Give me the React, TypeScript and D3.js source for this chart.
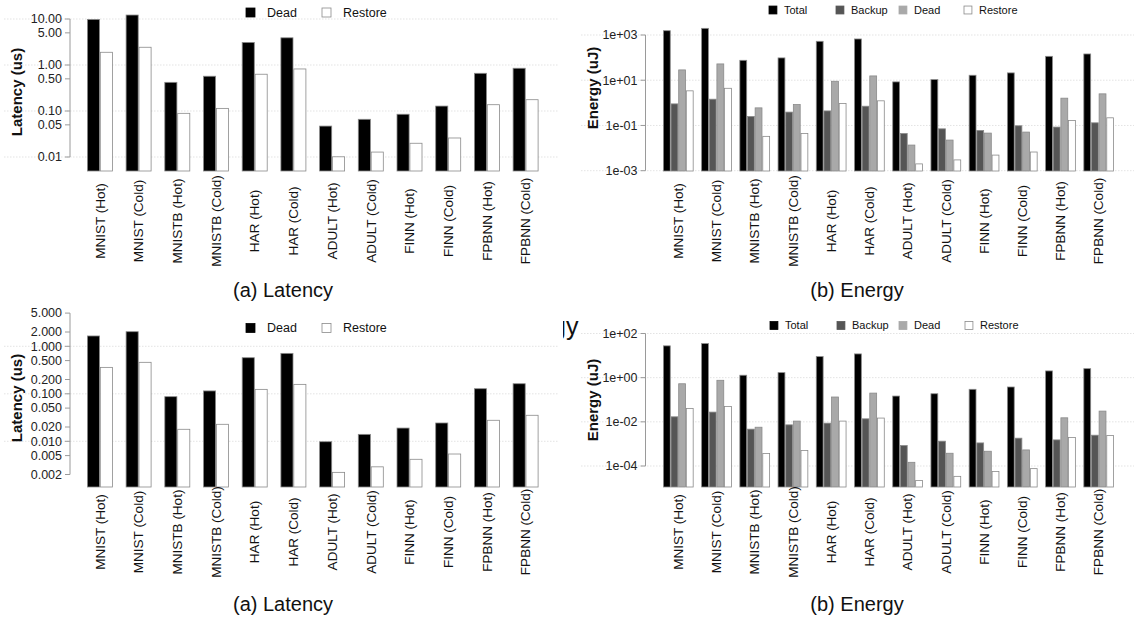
import * as d3 from 'd3'

// Docu: four log-scale grouped bar panels (latency + energy, two rows), drawn as JSX with d3 scales
const FONT = '"Liberation Sans", Arial, Helvetica, sans-serif'

const categories = [
  'MNIST (Hot)', 'MNIST (Cold)', 'MNISTB (Hot)', 'MNISTB (Cold)', 'HAR (Hot)', 'HAR (Cold)',
  'ADULT (Hot)', 'ADULT (Cold)', 'FINN (Hot)', 'FINN (Cold)', 'FPBNN (Hot)', 'FPBNN (Cold)',
]
const latSeries = ['Dead', 'Restore']
const energySeries = ['Total', 'Backup', 'Dead', 'Restore']

// top row
const latTopDead = [9.8, 12.2, 0.42, 0.57, 3.1, 3.9, 0.047, 0.066, 0.085, 0.128, 0.66, 0.85]
const latTopRestore = [1.89, 2.43, 0.089, 0.114, 0.63, 0.82, 0.0101, 0.0128, 0.0199, 0.0259, 0.137, 0.176]
const enTopTotal = [1550, 1970, 76, 97, 526, 667, 8.45, 10.7, 16.6, 21.1, 114, 145]
const enTopBackup = [0.9, 1.45, 0.25, 0.39, 0.44, 0.71, 0.044, 0.071, 0.06, 0.097, 0.085, 0.131]
const enTopDead = [28.6, 52.6, 0.6, 0.84, 9.0, 15.5, 0.0136, 0.0226, 0.046, 0.051, 1.61, 2.5]
const enTopRestore = [3.4, 4.4, 0.033, 0.044, 0.94, 1.23, 0.002, 0.003, 0.0049, 0.0067, 0.166, 0.218]

// bottom row
const latBotDead = [1.65, 2.03, 0.087, 0.115, 0.575, 0.71, 0.0098, 0.014, 0.019, 0.0243, 0.128, 0.163]
const latBotRestore = [0.36, 0.46, 0.0179, 0.0228, 0.124, 0.158, 0.00222, 0.0029, 0.00418, 0.0054, 0.0277, 0.0353]
const enBotTotal = [27.6, 35, 1.29, 1.69, 9.0, 11.9, 0.147, 0.187, 0.297, 0.378, 2.02, 2.56]
const enBotBackup = [0.0169, 0.0276, 0.00466, 0.0073, 0.0087, 0.0137, 0.000845, 0.00133, 0.00111, 0.00182, 0.00152, 0.00248]
const enBotDead = [0.53, 0.76, 0.0057, 0.0108, 0.133, 0.2, 0.000147, 0.000378, 0.000466, 0.000534, 0.0152, 0.0306]
const enBotRestore = [0.0406, 0.05, 0.000366, 0.0005, 0.0108, 0.0148, 0.000022, 0.000034, 0.000056, 0.000076, 0.00196, 0.0024]

// tick values / labels
const latTopTicks = [10, 5, 1, 0.5, 0.1, 0.05, 0.01]
const latTopTickLabels = ['10.00', '5.00', '1.00', '0.50', '0.10', '0.05', '0.01']
const latBotTicks = [5, 2, 1, 0.5, 0.2, 0.1, 0.05, 0.02, 0.01, 0.005, 0.002]
const latBotTickLabels = ['5.000', '2.000', '1.000', '0.500', '0.200', '0.100', '0.050', '0.020', '0.010', '0.005', '0.002']
const enTopTicks = [1e3, 1e1, 1e-1, 1e-3]
const enTopTickLabels = ['1e+03', '1e+01', '1e-01', '1e-03']
const enBotTicks = [1e2, 1, 1e-2, 1e-4]
const enBotTickLabels = ['1e+02', '1e+00', '1e-02', '1e-04']

const latFills: Record<string, string> = { Dead: '#000', Restore: '#fff' }
const enFills: Record<string, string> = { Total: '#000', Backup: '#555', Dead: '#a9a9a9', Restore: '#fff' }

type Panel = {
  series: string[]
  values: number[][]
  fills: Record<string, string>
  xRange: [number, number]
  yDomain: [number, number]
  yRange: [number, number]
  baseY: number
  ticks: number[]
  tickLabels: string[]
  grid: number[]
  gridX: [number, number]
  axisX: number
  ylabel: string
  ylabelPos: [number, number]
  catY: number
  legendY: number
  legendSq: number[]
  legendFont: number
  legendGap: number
  caption: string
  captionPos: [number, number]
}

function BarPanel(p: Panel) {
  const x = d3.scaleBand<string>().domain(categories).range(p.xRange)
    .paddingInner(1 / (p.series.length + 1)).paddingOuter(0)
  const xs = d3.scaleBand<string>().domain(p.series).range([0, x.bandwidth()])
  const y = d3.scaleLog().domain(p.yDomain).range(p.yRange)
  const sq = p.legendFont * 0.72
  return (
    <g>
      {p.grid.map((v) => (
        <line key={'g' + v} x1={p.gridX[0]} x2={p.gridX[1]} y1={y(v)} y2={y(v)}
          stroke="#dcdcdc" strokeWidth={0.8} strokeDasharray="1.5,1.5" />
      ))}
      {/* y axis */}
      <line x1={p.axisX} x2={p.axisX} y1={y(p.ticks[0])} y2={y(p.ticks[p.ticks.length - 1])} stroke="#9a9a9a" />
      {p.ticks.map((v, i) => (
        <g key={'t' + v}>
          <line x1={p.axisX - 5} x2={p.axisX} y1={y(v)} y2={y(v)} stroke="#9a9a9a" />
          <text x={p.axisX - 8} y={y(v)} dy="0.35em" textAnchor="end" fontSize={12.5} fill="#222">{p.tickLabels[i]}</text>
        </g>
      ))}
      <text transform={`translate(${p.ylabelPos[0]},${p.ylabelPos[1]}) rotate(-90)`} textAnchor="middle"
        dy="0.35em" fontSize={15} fontWeight="bold" fill="#111">{p.ylabel}</text>
      {/* bars */}
      {categories.map((c, ci) => (
        <g key={c} transform={`translate(${x(c)},0)`}>
          {p.series.map((s, si) => {
            const v = p.values[si][ci]
            return (
              <rect key={s} x={xs(s)! + 0.4} y={y(v)} width={xs.bandwidth() - 0.8} height={p.baseY - y(v)}
                fill={p.fills[s]} stroke="#8a8a8a" strokeWidth={0.8} />
            )
          })}
          <text transform={`translate(${x.bandwidth() / 2},${p.catY}) rotate(-90)`} textAnchor="middle"
            dy="0.35em" fontSize={13.5} fill="#111">{c}</text>
        </g>
      ))}
      {/* legend */}
      {p.series.map((s, i) => (
        <g key={'l' + s}>
          <rect x={p.legendSq[i]} y={p.legendY - sq / 2} width={sq} height={sq} fill={p.fills[s]}
            stroke={p.fills[s] === '#fff' ? '#8a8a8a' : p.fills[s]} strokeWidth={0.8} />
          <text x={p.legendSq[i] + p.legendGap} y={p.legendY} dy="0.35em" fontSize={p.legendFont} fill="#111">{s}</text>
        </g>
      ))}
      <text x={p.captionPos[0]} y={p.captionPos[1]} textAnchor="middle" fontSize={20} fill="#111">{p.caption}</text>
    </g>
  )
}

const panels: Panel[] = [
  {
    series: latSeries, values: [latTopDead, latTopRestore], fills: latFills,
    xRange: [87, 538.5], yDomain: [0.01, 10], yRange: [157, 19], baseY: 171,
    ticks: latTopTicks, tickLabels: latTopTickLabels, grid: [10, 1, 0.1, 0.01], gridX: [4, 558], axisX: 70,
    ylabel: 'Latency (us)', ylabelPos: [17, 92], catY: 221,
    legendY: 12.5, legendSq: [246, 322], legendFont: 12.5, legendGap: 21,
    caption: '(a) Latency', captionPos: [283, 297],
  },
  {
    series: energySeries, values: [enTopTotal, enTopBackup, enTopDead, enTopRestore], fills: enFills,
    xRange: [663, 1114], yDomain: [1e-3, 1e3], yRange: [170.7, 35], baseY: 171,
    ticks: enTopTicks, tickLabels: enTopTickLabels, grid: enTopTicks, gridX: [581, 1134], axisX: 645.5,
    ylabel: 'Energy (uJ)', ylabelPos: [593, 88], catY: 221,
    legendY: 10, legendSq: [769, 836, 899, 964], legendFont: 11, legendGap: 15,
    caption: '(b) Energy', captionPos: [857, 297],
  },
  {
    series: latSeries, values: [latBotDead, latBotRestore], fills: latFills,
    xRange: [87, 538.5], yDomain: [0.01, 1], yRange: [441.3, 346.3], baseY: 487,
    ticks: latBotTicks, tickLabels: latBotTickLabels, grid: [1, 0.1, 0.01], gridX: [4, 558], axisX: 70,
    ylabel: 'Latency (us)', ylabelPos: [17, 398], catY: 532,
    legendY: 328, legendSq: [246, 322], legendFont: 12.5, legendGap: 21,
    caption: '(a) Latency', captionPos: [283, 611],
  },
  {
    series: energySeries, values: [enBotTotal, enBotBackup, enBotDead, enBotRestore], fills: enFills,
    xRange: [663, 1114], yDomain: [1e-4, 1e2], yRange: [466, 333.5], baseY: 487,
    ticks: enBotTicks, tickLabels: enBotTickLabels, grid: enBotTicks, gridX: [581, 1134], axisX: 645.5,
    ylabel: 'Energy (uJ)', ylabelPos: [593, 400], catY: 532,
    legendY: 325.5, legendSq: [770, 837, 899, 965], legendFont: 11, legendGap: 15,
    caption: '(b) Energy', captionPos: [857, 611],
  },
]

export default function App() {
  return (
    <svg width={1136} height={620} viewBox="0 0 1136 620"
      style={{ position: 'absolute', left: 0, top: 0, background: '#fff', fontFamily: FONT }}>
      <rect width={1136} height={620} fill="#fff" />
      <defs>
        <clipPath id="stray">
          <rect x={563} y={312} width={20} height={34} />
        </clipPath>
      </defs>
      {panels.map((p, i) => <BarPanel key={i} {...p} />)}
      {/* cut-off caption fragment between the lower panels */}
      <text x={578.5} y={335} textAnchor="end" fontSize={25} fill="#111" clipPath="url(#stray)">Energy</text>
    </svg>
  )
}
